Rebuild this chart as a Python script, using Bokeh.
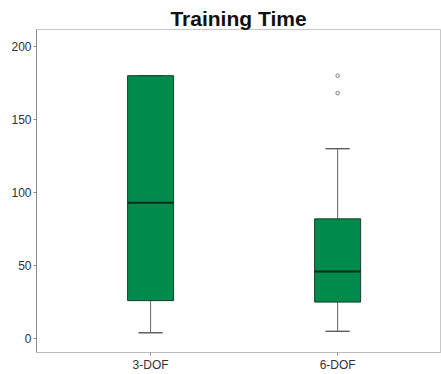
from bokeh.plotting import figure
from bokeh.models import Range1d, FixedTicker, ColumnDataSource
from bokeh.embed import file_html
from bokeh.resources import INLINE

categories = ["3-DOF", "6-DOF"]
lower_whisker = [4, 5]
q1 = [26, 25]
median = [93, 46]
q3 = [180, 82]
upper_whisker = [180, 130]
outlier_cat = ["6-DOF", "6-DOF"]
outlier_val = [180, 168]
y_ticks = [0, 50, 100, 150, 200]

xpos = [i + 1 for i in range(len(categories))]
opos = [categories.index(c) + 1 for c in outlier_cat]

p = figure(width=441, height=374, output_backend="svg", toolbar_location=None,
           x_range=Range1d(0.39, 2.55), y_range=Range1d(-9.5, 211.6),
           min_border_left=36, min_border_right=1, min_border_bottom=20, min_border_top=29)
p.title.text = "Training Time"
p.title.text_font = "Liberation Sans"
p.title.text_font_size = "21px"
p.title.text_font_style = "bold"
p.title.align = "center"
p.title.vertical_align = "bottom"
p.title.text_color = "#111111"
p.title.standoff = 0

p.xgrid.visible = False
p.ygrid.visible = False
p.outline_line_color = "#c8c8c8"
p.outline_line_width = 1

src = ColumnDataSource(dict(x=xpos, lw=lower_whisker, q1=q1, med=median, q3=q3, uw=upper_whisker))
p.segment(x0="x", y0="lw", x1="x", y1="q1", source=src, line_color="#666666", line_width=1)
p.segment(x0="x", y0="q3", x1="x", y1="uw", source=src, line_color="#666666", line_width=1)
p.rect(x="x", y="lw", width=0.128, height=0.01, height_units="screen", source=src,
       fill_alpha=0, line_color="#555555", line_width=1)
p.rect(x="x", y="uw", width=0.128, height=0.01, height_units="screen", source=src,
       fill_alpha=0, line_color="#555555", line_width=1)
p.vbar(x="x", bottom="q1", top="q3", width=0.246, source=src,
       fill_color="#008a4c", line_color="#1f3d2c", line_width=1)
p.rect(x="x", y="med", width=0.246, height=2, height_units="screen", source=src,
       fill_color="#0d2a1a", line_color=None)
p.scatter(x=opos, y=outlier_val, size=3.5, marker="circle", fill_color="white",
          line_color="#777777", line_width=1)

for ax in (p.xaxis[0], p.yaxis[0]):
    ax.major_label_text_font = "Liberation Sans"
    ax.major_label_text_font_size = "12px"
    ax.major_label_text_color = "#333333"
    ax.axis_line_color = "#8a8a8a"
    ax.major_tick_line_color = "#8a8a8a"
    ax.minor_tick_line_color = None
    ax.major_tick_in = 0
    ax.major_tick_out = 3
    ax.major_label_standoff = 2

p.yaxis.ticker = FixedTicker(ticks=y_ticks)
p.xaxis.ticker = FixedTicker(ticks=xpos)
p.xaxis.major_label_overrides = {x: c for x, c in zip(xpos, categories)}
p.xaxis.axis_line_color = "#bbbbbb"

open("out.html", "w").write(file_html(p, INLINE))
